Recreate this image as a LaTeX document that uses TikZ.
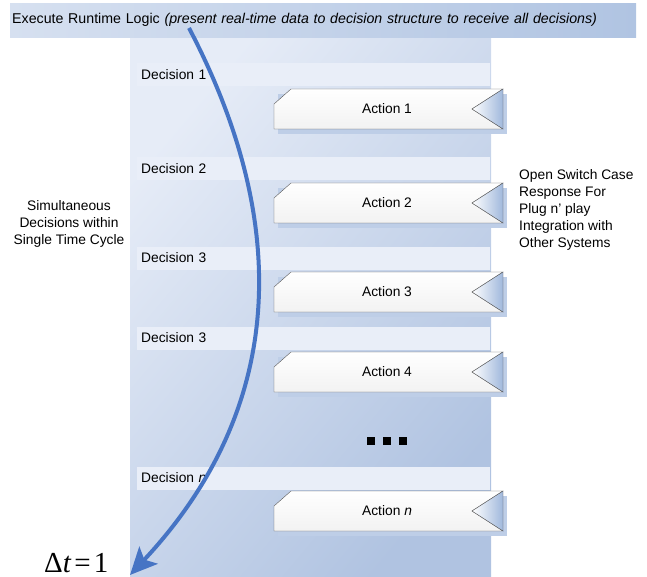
\documentclass[tikz,border=0pt]{standalone}
\usepackage{fontspec}
\setmainfont{Liberation Sans}
\newfontfamily\deltafont{Liberation Serif}
\usetikzlibrary{arrows.meta,positioning}

\definecolor{bannerL}{RGB}{214,224,240}
\definecolor{bannerR}{RGB}{176,196,226}
\definecolor{panelL}{RGB}{230,236,247}
\definecolor{panelR}{RGB}{176,195,225}
\definecolor{bandfill}{RGB}{233,238,248}
\definecolor{shadowblue}{RGB}{190,206,231}
\definecolor{notchblue}{RGB}{160,184,220}
\definecolor{flowblue}{RGB}{70,116,196}

\tikzset{
  decision/.style={fill=bandfill, anchor=west, text width=345pt, align=left,
    inner xsep=4pt, inner ysep=0pt, minimum height=23pt},
  actiontext/.style={inner sep=0pt},
  flow/.style={line width=4pt, draw=flowblue,
    -{Stealth[length=27pt, width=25pt, inset=6pt]}}
}

\begin{document}
\begin{tikzpicture}[x=1pt, y=-1pt, font=\fontsize{13.8}{17}\selectfont]
  \useasboundingbox (0,0) rectangle (647,577);

  % Draw the shaded panel behind the decisions
  \shade[left color=panelL, right color=panelR, shading angle=50] (130,37) rectangle (491,577);

  % Draw the banner with the runtime text
  \node[left color=bannerL, right color=bannerR, anchor=north west, text width=622pt,
    align=left, inner xsep=2pt, minimum height=34pt, font=\fontsize{14.2}{17}\selectfont] (logic) at (10,3)
    {Execute Runtime Logic \textit{(present real-time data to decision structure to receive all decisions)}};

  % Draw the decision bands
  \node[decision] (dec1) at (137,75) {Decision 1};
  \node[decision] (dec2) at (137,169) {Decision 2};
  \node[decision] (dec3) at (137,258) {Decision 3};
  \node[decision] (dec4) at (137,338) {Decision 3};
  \node[decision] (decn) at (137,478) {Decision \textit{n}};

  % Draw the action boxes with their notch on the right
  \foreach \i/\y/\t in {1/109/Action 1, 2/203/Action 2, 3/292/Action 3, 4/372/Action 4, n/511/Action \textit{n}} {
    \fill[shadowblue] (278,\y-15) -- (507,\y-15) -- (507,\y+25) -- (278,\y+25) -- cycle;
    \draw[gray!70!black, top color=white, bottom color=gray!10]
      (291,\y-20) -- (503,\y-20) -- (472,\y) -- (503,\y+20) -- (274,\y+20) -- (274,\y-5) -- cycle;
    \draw[gray!70!black, left color=white, right color=notchblue]
      (503,\y-20) -- (472,\y) -- (503,\y+20) -- cycle;
    \node[actiontext] (act\i) at (387,\y) {\t};
  }

  % Draw the dots between action 4 and action n
  \node[inner sep=0pt] (more) at (387,441) {\rule{8pt}{8pt}\hspace{8pt}\rule{8pt}{8pt}\hspace{8pt}\rule{8pt}{8pt}};

  % Draw the side texts
  \node[align=center] (simul) at (69,224) {Simultaneous\\Decisions within\\Single Time Cycle};
  \node[align=left, anchor=west, inner xsep=0pt] (open) at (519,210)
    {Open Switch Case\\Response For\\Plug n' play\\Integration with\\Other Systems};

  % Draw the time step label
  \node[font=\deltafont\fontsize{29}{32}\selectfont, inner sep=0pt, anchor=base west] (dt) at (44,572)
    {Δ\textit{t}\hspace{3pt}=\hspace{3pt}1};

  % Draw the time arrow going down through the decisions
  \coordinate (start) at (189,28);
  \coordinate (end) at (130,575);
  \draw[flow] (start) .. controls (300,240) and (275,420) .. (end);

\end{tikzpicture}
\end{document}
